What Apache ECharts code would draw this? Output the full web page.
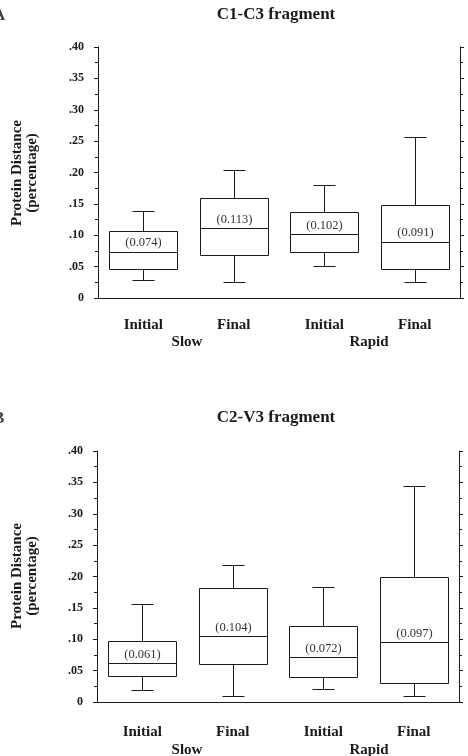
<!DOCTYPE html>
<html>
<head>
<meta charset="utf-8">
<title>Protein Distance</title>
<script src="https://cdn.jsdelivr.net/npm/echarts@6/dist/echarts.min.js"></script>
<style>
  html, body { margin: 0; padding: 0; background: #fff; }
  #chart { width: 468px; height: 756px; }
</style>
</head>
<body>
<div id="chart"></div>
<script>
// categories shared by both panels
const categories = ['Initial', 'Final', 'Initial', 'Final']
const groupNames = ['Slow', 'Rapid']
const yTicks = ['0', '.05', '.10', '.15', '.20', '.25', '.30', '.35', '.40']

// panel A : C1-C3 fragment
const aLow = [0.028, 0.026, 0.051, 0.025]
const aQ1 = [0.046, 0.069, 0.074, 0.047]
const aMed = [0.074, 0.112, 0.102, 0.090]
const aQ3 = [0.107, 0.160, 0.137, 0.149]
const aHigh = [0.139, 0.204, 0.180, 0.256]
const aLabels = ['(0.074)', '(0.113)', '(0.102)', '(0.091)']

// panel B : C2-V3 fragment
const bLow = [0.019, 0.009, 0.020, 0.010]
const bQ1 = [0.041, 0.061, 0.040, 0.030]
const bMed = [0.062, 0.105, 0.072, 0.096]
const bQ3 = [0.097, 0.182, 0.121, 0.199]
const bHigh = [0.156, 0.218, 0.183, 0.344]
const bLabels = ['(0.061)', '(0.104)', '(0.072)', '(0.097)']

const serif = '"Liberation Serif", "DejaVu Serif", serif'
const ink = '#1a1a1a'

const chart = echarts.init(document.getElementById('chart'))

function boxData(low, q1, med, q3, high, labels) {
  return categories.map((c, i) => [i, low[i], q1[i], med[i], q3[i], high[i], labels[i]])
}

function renderBox(params, api) {
  const idx = api.value(0)
  const pLow = api.coord([idx, api.value(1)])
  const pQ1 = api.coord([idx, api.value(2)])
  const pMed = api.coord([idx, api.value(3)])
  const pQ3 = api.coord([idx, api.value(4)])
  const pHigh = api.coord([idx, api.value(5)])
  const band = api.size([1, 0])[0]
  const half = Math.round(band * 0.375)
  const cap = Math.round(band * 0.12)
  const cx = Math.round(pMed[0]) + 0.5
  const r = v => Math.round(v) + 0.5
  const line = { stroke: ink, lineWidth: 1, fill: null }
  return {
    type: 'group',
    children: [
      { type: 'rect', shape: { x: cx - half, y: r(pQ3[1]), width: half * 2, height: r(pQ1[1]) - r(pQ3[1]) }, style: { fill: null, stroke: ink, lineWidth: 1 } },
      { type: 'line', shape: { x1: cx - half, y1: r(pMed[1]), x2: cx + half, y2: r(pMed[1]) }, style: line },
      { type: 'line', shape: { x1: cx, y1: r(pQ3[1]), x2: cx, y2: r(pHigh[1]) }, style: line },
      { type: 'line', shape: { x1: cx - cap, y1: r(pHigh[1]), x2: cx + cap, y2: r(pHigh[1]) }, style: line },
      { type: 'line', shape: { x1: cx, y1: r(pQ1[1]), x2: cx, y2: r(pLow[1]) }, style: line },
      { type: 'line', shape: { x1: cx - cap, y1: r(pLow[1]), x2: cx + cap, y2: r(pLow[1]) }, style: line },
      {
        type: 'text',
        style: {
          text: api.value(6), x: cx, y: pMed[1] - 2,
          align: 'center', verticalAlign: 'bottom',
          font: '12.5px ' + serif, fill: '#333'
        }
      }
    ]
  }
}

function xAxes(gridIndex, labelMargin) {
  return [
    {
      gridIndex, type: 'category', data: categories, position: 'bottom',
      axisLine: { lineStyle: { color: ink, width: 1 } },
      axisTick: { alignWithLabel: true, length: 3, lineStyle: { color: ink } },
      axisLabel: { margin: labelMargin, fontFamily: serif, fontWeight: 'bold', fontSize: 15, color: ink }
    },
    {
      gridIndex, type: 'category', data: categories, position: 'top',
      axisLine: { lineStyle: { color: ink, width: 1 } },
      axisTick: { alignWithLabel: true, length: 3, lineStyle: { color: ink } },
      axisLabel: { show: false }
    }
  ]
}

function yAxes(gridIndex) {
  const common = {
    gridIndex, type: 'value', min: 0, max: 0.4, interval: 0.05,
    splitLine: { show: false },
    axisLine: { show: true, lineStyle: { color: ink, width: 1 } },
    axisTick: { show: true, length: 4, lineStyle: { color: ink } },
    minorTick: { show: true, splitNumber: 2, length: 3, lineStyle: { color: ink } }
  }
  return [
    Object.assign({}, common, {
      position: 'left',
      axisLabel: {
        margin: 14, fontFamily: serif, fontWeight: 'bold', fontSize: 12, color: ink,
        formatter: v => yTicks[Math.round(v / 0.05)]
      }
    }),
    Object.assign({}, common, { position: 'right', axisLabel: { show: false } })
  ]
}

function panelText(top, title, groupY, letter) {
  const titleFont = 'bold 17px ' + serif
  const labelFont = 'bold 15px ' + serif
  return [
    { type: 'text', left: -7, top: top - 8, style: { text: letter, font: titleFont, fill: '#444' } },
    { type: 'text', x: 276, y: top, style: { text: title, font: titleFont, fill: ink, align: 'center', verticalAlign: 'middle' } },
    {
      type: 'text', x: 25, y: top + 158, rotation: Math.PI / 2,
      style: { text: 'Protein Distance\n(percentage)', font: labelFont, lineHeight: 15, fill: ink, align: 'center', verticalAlign: 'middle' }
    },
    { type: 'text', x: 187, y: groupY, style: { text: groupNames[0], font: labelFont, fill: ink, align: 'center', verticalAlign: 'middle' } },
    { type: 'text', x: 369, y: groupY, style: { text: groupNames[1], font: labelFont, fill: ink, align: 'center', verticalAlign: 'middle' } }
  ]
}

const option = {
  animation: false,
  backgroundColor: '#fff',
  grid: [
    { left: 98, top: 47, width: 362, height: 251 },
    { left: 97, top: 451, width: 362, height: 251 }
  ],
  xAxis: [...xAxes(0, 20), ...xAxes(1, 23)],
  yAxis: [...yAxes(0), ...yAxes(1)],
  graphic: [
    ...panelText(15, 'C1-C3 fragment', 342, 'A'),
    ...panelText(418, 'C2-V3 fragment', 750, 'B')
  ],
  series: [
    {
      name: 'C1-C3 fragment', type: 'custom', xAxisIndex: 0, yAxisIndex: 0,
      renderItem: renderBox, encode: { x: 0, y: [1, 2, 3, 4, 5] },
      data: boxData(aLow, aQ1, aMed, aQ3, aHigh, aLabels)
    },
    {
      name: 'C2-V3 fragment', type: 'custom', xAxisIndex: 2, yAxisIndex: 2,
      renderItem: renderBox, encode: { x: 0, y: [1, 2, 3, 4, 5] },
      data: boxData(bLow, bQ1, bMed, bQ3, bHigh, bLabels)
    }
  ]
}

chart.setOption(option)
</script>
</body>
</html>
